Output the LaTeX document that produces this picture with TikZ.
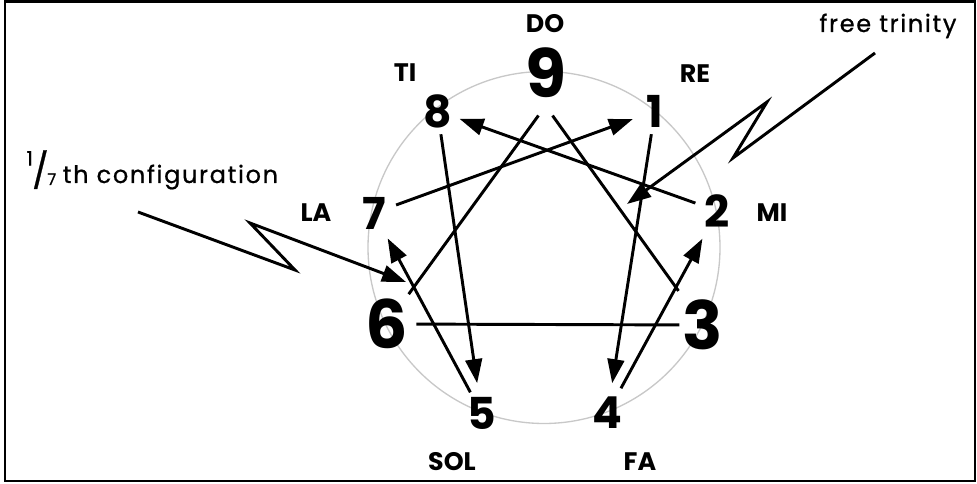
\documentclass[tikz,border=0pt]{standalone}
\usepackage{fontspec}
\setmainfont{Poppins}
\usetikzlibrary{arrows.meta}

\tikzset{every picture/.style={line width=0.75pt}}
\tikzset{
  num/.style={circle,inner sep=0pt,minimum size=34.5pt,font=\fontsize{33}{33}\selectfont\bfseries},
  bignum/.style={num,minimum size=37.5pt,font=\fontsize{50}{50}\selectfont\bfseries},
  solfa/.style={inner sep=0.75pt,font=\fontsize{19}{19}\selectfont\bfseries},
  note/.style={inner sep=0.75pt,font=\fontsize{18}{18}\selectfont\addfontfeature{FakeBold=0.8,LetterSpace=7}},
  chord/.style={line width=2.2pt},
  arr/.style={chord,-{Triangle[length=18pt,width=12.5pt]}},
}

\begin{document}
\begin{tikzpicture}[x=0.75pt,y=0.75pt,yscale=-1,xscale=1]
        \useasboundingbox (0,0) rectangle (977,484);

        %Shape: Rectangle 
        \draw [line width=1.6pt] (5,1.5) rectangle (975,481) ;
        %Shape: Circle 
        \draw [color={rgb, 255:red, 200; green, 200; blue, 200 }  ,draw opacity=1 ][line width=1] (544,247.5) circle (176) ;

        % Number Nodes
        \draw (545.5,73) node (n9) [bignum,minimum size=45pt] {9};
        \draw (655,111) node (n1) [num] {1};
        \draw (717.5,211) node (n2) [num] {2};
        \draw (703,325) node (n3) [bignum] {3};
        \draw (607.5,413) node (n4) [num] {4};
        \draw (481.5,413) node (n5) [num] {5};
        \draw (387,324) node (n6) [bignum] {6};
        \draw (374,213) node (n7) [num] {7};
        \draw (437.5,111) node (n8) [num] {8};

        %Straight Lines: triangle
        \draw [chord,shorten <=-3pt,shorten >=-6.75pt] (n6) -- (n3) ;
        \draw [chord,shorten <=9pt,shorten >=2.7pt] (n9.south) -- (n6) ;
        \draw [chord,shorten <=9pt,shorten >=7pt] (n9.south) -- (n3) ;
        %Straight Lines: hexad
        \draw [arr] (n7) -- (n1) ;
        \draw [arr] (n2) -- (n8) ;
        \draw [arr,shorten >=5pt] (n8) -- (n5) ;
        \draw [arr,shorten >=5pt] (n1) -- (n4) ;
        \draw [arr,shorten <=3.5pt,shorten >=6pt] (n4) -- (n2) ;
        \draw [arr,shorten >=4pt] (n5) -- (n7) ;

        %Zigzag Arrows
        \coordinate (cfgA) at (138,212) ;
        \coordinate (cfgB) at (295,270) ;
        \coordinate (cfgC) at (250,223) ;
        \coordinate (cfgTip) at (406,282) ;
        \draw [arr,line join=miter] (cfgA) -- (cfgB) -- (cfgC) -- (cfgTip) ;
        \coordinate (freeA) at (875,53) ;
        \coordinate (freeB) at (733,158) ;
        \coordinate (freeC) at (767,102) ;
        \coordinate (freeTip) at (627,204) ;
        \draw [arr,line join=miter] (freeA) -- (freeB) -- (freeC) -- (freeTip) ;

        % Text Node
        \draw (545,23.5) node (do) [solfa] {DO};
        % Text Node
        \draw (405,72.5) node (ti) [solfa] {TI};
        % Text Node
        \draw (695,73.5) node (re) [solfa] {RE};
        % Text Node
        \draw (772,212.5) node (mi) [solfa] {MI};
        % Text Node
        \draw (316,213) node (la) [solfa] {LA};
        % Text Node
        \draw (452,462) node (sol) [solfa] {SOL};
        % Text Node
        \draw (640,462) node (fa) [solfa] {FA};
        % Text Node
        \draw (818,32) node (free) [note,anchor=base west] {free trinity};
        % Text Node
        \draw (25,183) node (config) [note,anchor=base west] {\raisebox{13pt}{\fontsize{15}{15}\selectfont 1}\kern-0.5pt{\fontsize{26}{26}\selectfont /}\kern-1pt\raisebox{-1.5pt}{\fontsize{12}{12}\selectfont 7}\hspace{5pt}th configuration};

\end{tikzpicture}
\end{document}
